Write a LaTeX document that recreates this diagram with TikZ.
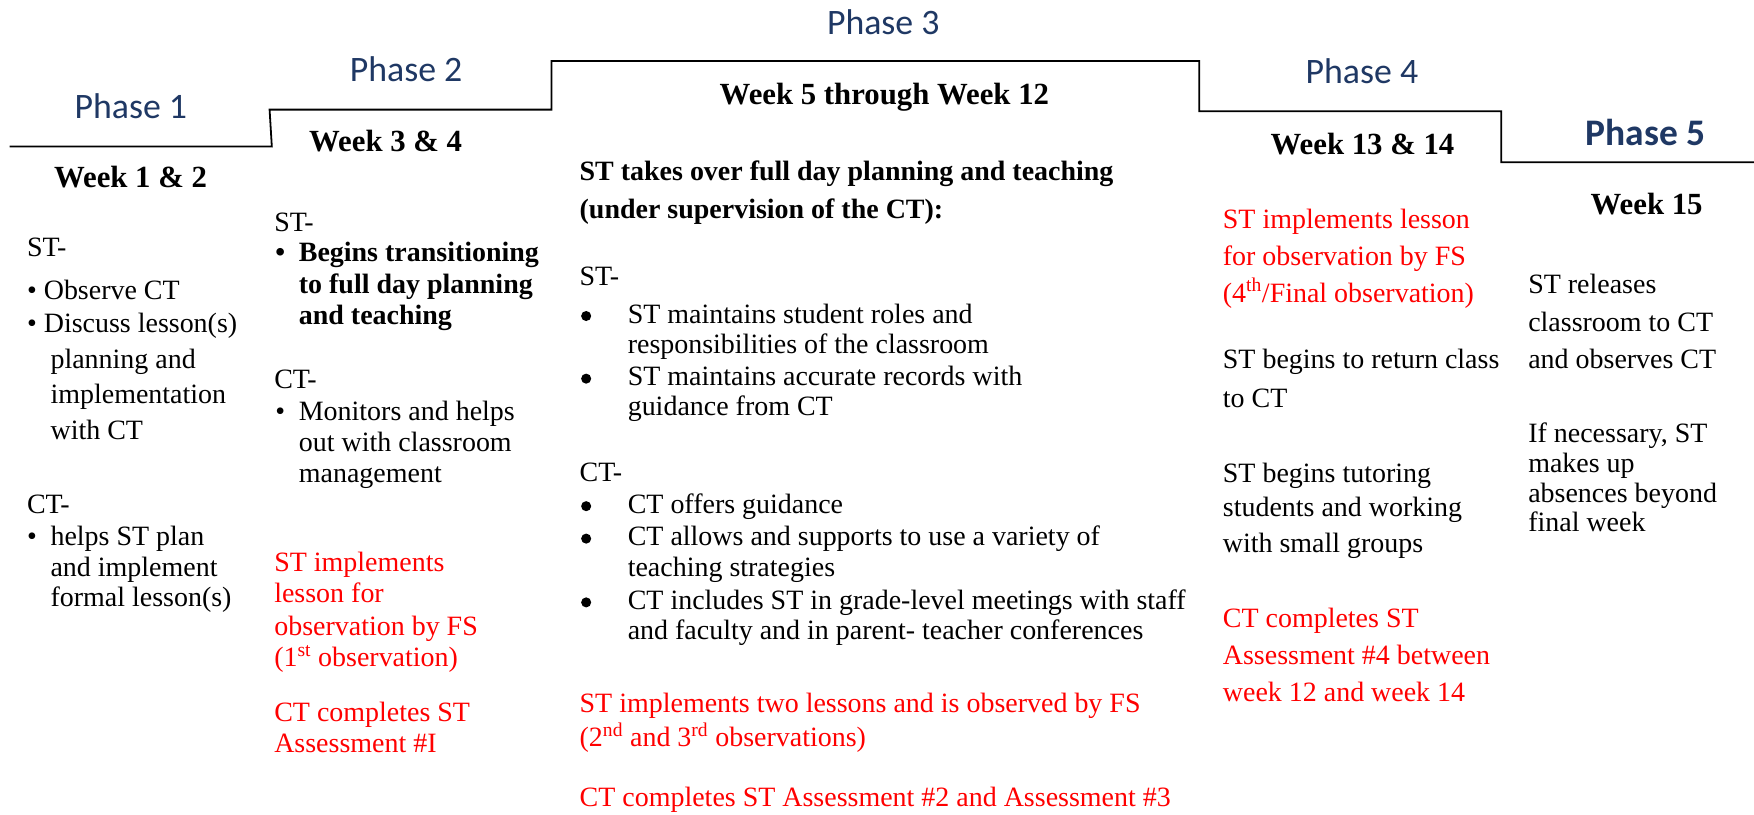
\documentclass[tikz,border=0pt]{standalone}
\usepackage{fontspec}
\setmainfont{Liberation Serif}
\newfontfamily\phasefont{Carlito}
\definecolor{phaseblue}{RGB}{31,56,100}
\definecolor{obsred}{RGB}{255,0,0}
% bullet followed by a fixed indent
\newcommand\bitem[1]{\makebox[#1][l]{\textbullet}}

\begin{document}
\begin{tikzpicture}[x=1pt,y=-1pt,
  phase/.style={anchor=base, inner sep=0pt, text=phaseblue, font=\phasefont\fontsize{32}{38}\selectfont},
  week/.style={anchor=base, inner sep=0pt, font=\bfseries\fontsize{27.5}{33}\selectfont},
  ln/.style={anchor=base west, inner sep=0pt, font=\fontsize{25}{30}\selectfont},
  bln/.style={anchor=base west, inner sep=0pt, font=\bfseries\fontsize{25}{30}\selectfont},
  rln/.style={ln, text=obsred},
  dot/.style={fill=black},
  stair/.style={line width=1.6pt, line join=miter}]

\useasboundingbox (0,0) rectangle (1568,728);

% the rising and falling timeline
\draw[stair] (8.6,131) -- (243,131) -- (241,98) -- (493,98) -- (493,54.5)
  -- (1072,54.5) -- (1072,99.5) -- (1342,99.5) -- (1342,145) -- (1568,145);

% phase titles
\node[phase] (ph1) at (117,105.5) {Phase 1};
\node[phase] (ph2) at (363,73) {Phase 2};
\node[phase] (ph3) at (789.6,31) {Phase 3};
\node[phase] (ph4) at (1217.5,75) {Phase 4};
\node[phase, font=\phasefont\bfseries\fontsize{33.5}{40}\selectfont] (ph5) at (1471,130) {Phase 5};

% week headings
\node[week] (wk1) at (116.7,168) {Week 1 \& 2};
\node[week] (wk2) at (344.7,135) {Week 3 \& 4};
\node[week] (wk3) at (790.6,93) {Week 5 through Week 12};
\node[week] (wk4) at (1218,138) {Week 13 \& 14};
\node[week] (wk5) at (1472,191.5) {Week 15};

% Phase 1 column
\node[ln] (a1) at (24,229) {ST-};
\node[ln] (a2) at (24,268) {\bitem{15pt}Observe CT};
\node[ln] (a3) at (24,297) {\bitem{15pt}Discuss lesson(s)};
\node[ln] (a4) at (45,329) {planning and};
\node[ln] (a5) at (45,361) {implementation};
\node[ln] (a6) at (45,393) {with CT};
\node[ln] (a7) at (24,459) {CT-};
\node[ln] (a8) at (24,488) {\bitem{21pt}helps ST plan};
\node[ln] (a9) at (45,515) {and implement};
\node[ln] (a10) at (45,542) {formal lesson(s)};

% Phase 2 column
\node[ln] (b1) at (245,207) {ST-};
\node[bln] (b2) at (246,234) {\bitem{21pt}Begins transitioning};
\node[bln] (b3) at (267,262) {to full day planning};
\node[bln] (b4) at (267,290) {and teaching};
\node[ln] (b5) at (245,347) {CT-};
\node[ln] (b6) at (246,376) {\bitem{21pt}Monitors and helps};
\node[ln] (b7) at (267,404) {out with classroom};
\node[ln] (b8) at (267,431) {management};
\node[rln] (b9) at (245,511) {ST implements};
\node[rln] (b10) at (245,539) {lesson for};
\node[rln] (b11) at (245,568) {observation by FS};
\node[rln] (b12) at (245,596) {(1\textsuperscript{st} observation)};
\node[rln] (b13) at (245,645) {CT completes ST};
\node[rln] (b14) at (245,673) {Assessment \#I};

% Phase 3 column
\node[bln] (c1) at (518,161) {ST takes over full day planning and teaching};
\node[bln] (c2) at (518,195) {(under supervision of the CT):};
\node[ln] (c3) at (518,255) {ST-};
\node[ln] (c4) at (561,289) {ST maintains student roles and};
\node[ln] (c5) at (561,316) {responsibilities of the classroom};
\node[ln] (c6) at (561,345) {ST maintains accurate records with};
\node[ln] (c7) at (561,371) {guidance from CT};
\node[ln] (c8) at (518,430) {CT-};
\node[ln] (c9) at (561,459) {CT offers guidance};
\node[ln] (c10) at (561,488) {CT allows and supports to use a variety of};
\node[ln] (c11) at (561,515) {teaching strategies};
\node[ln] (c12) at (561,545) {CT includes ST in grade-level meetings with staff};
\node[ln] (c13) at (561,572) {and faculty and in parent- teacher conferences};
\node[rln] (c14) at (518,637) {ST implements two lessons and is observed by FS};
\node[rln] (c15) at (518,667) {(2\textsuperscript{nd} and 3\textsuperscript{rd} observations)};
\node[rln] (c16) at (518,721) {CT completes ST Assessment \#2 and Assessment \#3};
% list bullets of the middle column
\foreach \yb in {282.5,338.5,452.5,481.5,538.5}
  \fill[dot] (524,\yb) circle (4.5);

% Phase 4 column
\node[rln] (d1) at (1093,204) {ST implements lesson};
\node[rln] (d2) at (1093,237) {for observation by FS};
\node[rln] (d3) at (1093,270) {(4\textsuperscript{th}/Final observation)};
\node[ln] (d4) at (1093,329) {ST begins to return class};
\node[ln] (d5) at (1093,364) {to CT};
\node[ln] (d6) at (1093,431) {ST begins tutoring};
\node[ln] (d7) at (1093,462) {students and working};
\node[ln] (d8) at (1093,494) {with small groups};
\node[rln] (d9) at (1093,561) {CT completes ST};
\node[rln] (d10) at (1093,594) {Assessment \#4 between};
\node[rln] (d11) at (1093,627) {week 12 and week 14};

% Phase 5 column
\node[ln] (e1) at (1366,262) {ST releases};
\node[ln] (e2) at (1366,296) {classroom to CT};
\node[ln] (e3) at (1366,329) {and observes CT};
\node[ln] (e4) at (1366,396) {If necessary, ST};
\node[ln] (e5) at (1366,422) {makes up};
\node[ln] (e6) at (1366,449) {absences beyond};
\node[ln] (e7) at (1366,475) {final week};

\end{tikzpicture}
\end{document}
